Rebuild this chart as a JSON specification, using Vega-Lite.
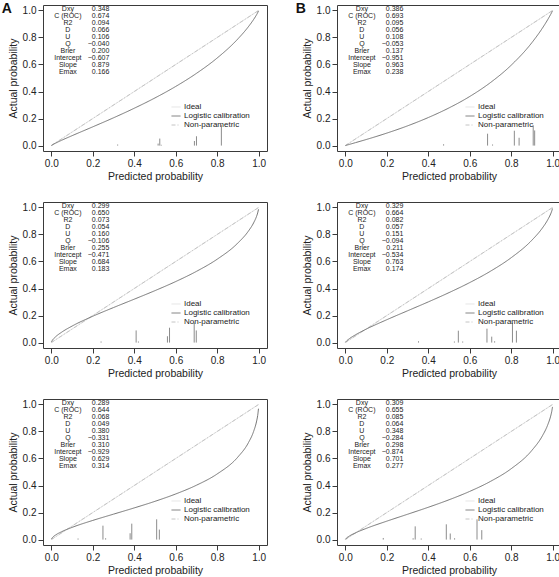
{
"$schema": "https://vega.github.io/schema/vega-lite/v6.json",
"padding": {"left": 1, "top": 1, "right": 0, "bottom": 0},
"background": "white",
"config": {
  "font": "Liberation Sans",
  "view": {"stroke": "#3a3a3a", "strokeWidth": 1},
  "axis": {"domain": false, "grid": false, "tickColor": "#3a3a3a", "tickSize": 5, "labelFontSize": 10, "labelColor": "#222", "titleFontSize": 10.5, "titleFontWeight": "normal", "titleColor": "#222", "labelPadding": 2, "labelFlush": false, "labelFont": "Liberation Sans", "titleFont": "Liberation Sans"},
  "axisX": {"titlePadding": 3},
  "axisY": {"labelAngle": 0, "titlePadding": 4},
  "text": {"font": "Liberation Sans"}
},
"datasets": {
  "ref": [
    {"series": "Ideal", "p": 0, "y": 0}, {"series": "Ideal", "p": 1, "y": 1},
    {"series": "Non-parametric", "p": 0, "y": 0}, {"series": "Non-parametric", "p": 1, "y": 1}
  ],
  "curves": [
    {"panel":"A1","series":"Logistic calibration","p":0.001,"y":0.0013},{"panel":"A1","series":"Logistic calibration","p":0.005,"y":0.0052},{"panel":"A1","series":"Logistic calibration","p":0.02,"y":0.0175},{"panel":"A1","series":"Logistic calibration","p":0.05,"y":0.0394},{"panel":"A1","series":"Logistic calibration","p":0.1,"y":0.0732},{"panel":"A1","series":"Logistic calibration","p":0.2,"y":0.1388},{"panel":"A1","series":"Logistic calibration","p":0.3,"y":0.2055},{"panel":"A1","series":"Logistic calibration","p":0.4,"y":0.2763},{"panel":"A1","series":"Logistic calibration","p":0.5,"y":0.3527},{"panel":"A1","series":"Logistic calibration","p":0.6,"y":0.4376},{"panel":"A1","series":"Logistic calibration","p":0.7,"y":0.5344},{"panel":"A1","series":"Logistic calibration","p":0.8,"y":0.6482},{"panel":"A1","series":"Logistic calibration","p":0.9,"y":0.7898},{"panel":"A1","series":"Logistic calibration","p":0.95,"y":0.8788},{"panel":"A1","series":"Logistic calibration","p":0.975,"y":0.9318},{"panel":"A1","series":"Logistic calibration","p":0.99,"y":0.9687},{"panel":"A1","series":"Logistic calibration","p":0.995,"y":0.9828},{"panel":"A1","series":"Logistic calibration","p":0.999,"y":0.9958},
    {"panel":"A2","series":"Logistic calibration","p":0.001,"y":0.0055},{"panel":"A2","series":"Logistic calibration","p":0.005,"y":0.0164},{"panel":"A2","series":"Logistic calibration","p":0.02,"y":0.0418},{"panel":"A2","series":"Logistic calibration","p":0.05,"y":0.0769},{"panel":"A2","series":"Logistic calibration","p":0.1,"y":0.122},{"panel":"A2","series":"Logistic calibration","p":0.2,"y":0.1949},{"panel":"A2","series":"Logistic calibration","p":0.3,"y":0.2592},{"panel":"A2","series":"Logistic calibration","p":0.4,"y":0.3212},{"panel":"A2","series":"Logistic calibration","p":0.5,"y":0.3844},{"panel":"A2","series":"Logistic calibration","p":0.6,"y":0.4516},{"panel":"A2","series":"Logistic calibration","p":0.7,"y":0.527},{"panel":"A2","series":"Logistic calibration","p":0.8,"y":0.617},{"panel":"A2","series":"Logistic calibration","p":0.9,"y":0.7373},{"panel":"A2","series":"Logistic calibration","p":0.95,"y":0.8239},{"panel":"A2","series":"Logistic calibration","p":0.975,"y":0.8844},{"panel":"A2","series":"Logistic calibration","p":0.99,"y":0.9354},{"panel":"A2","series":"Logistic calibration","p":0.995,"y":0.9589},{"panel":"A2","series":"Logistic calibration","p":0.999,"y":0.986},
    {"panel":"A3","series":"Logistic calibration","p":0.001,"y":0.0051},{"panel":"A3","series":"Logistic calibration","p":0.005,"y":0.014},{"panel":"A3","series":"Logistic calibration","p":0.02,"y":0.033},{"panel":"A3","series":"Logistic calibration","p":0.05,"y":0.0584},{"panel":"A3","series":"Logistic calibration","p":0.1,"y":0.0902},{"panel":"A3","series":"Logistic calibration","p":0.2,"y":0.1418},{"panel":"A3","series":"Logistic calibration","p":0.3,"y":0.1882},{"panel":"A3","series":"Logistic calibration","p":0.4,"y":0.2344},{"panel":"A3","series":"Logistic calibration","p":0.5,"y":0.2831},{"panel":"A3","series":"Logistic calibration","p":0.6,"y":0.3376},{"panel":"A3","series":"Logistic calibration","p":0.7,"y":0.4023},{"panel":"A3","series":"Logistic calibration","p":0.8,"y":0.4858},{"panel":"A3","series":"Logistic calibration","p":0.9,"y":0.6114},{"panel":"A3","series":"Logistic calibration","p":0.95,"y":0.7157},{"panel":"A3","series":"Logistic calibration","p":0.975,"y":0.7983},{"panel":"A3","series":"Logistic calibration","p":0.99,"y":0.8767},{"panel":"A3","series":"Logistic calibration","p":0.995,"y":0.9168},{"panel":"A3","series":"Logistic calibration","p":0.999,"y":0.9682},
    {"panel":"B1","series":"Logistic calibration","p":0.001,"y":0.0005},{"panel":"B1","series":"Logistic calibration","p":0.005,"y":0.0024},{"panel":"B1","series":"Logistic calibration","p":0.02,"y":0.009},{"panel":"B1","series":"Logistic calibration","p":0.05,"y":0.0222},{"panel":"B1","series":"Logistic calibration","p":0.1,"y":0.0445},{"panel":"B1","series":"Logistic calibration","p":0.2,"y":0.0923},{"panel":"B1","series":"Logistic calibration","p":0.3,"y":0.1459},{"panel":"B1","series":"Logistic calibration","p":0.4,"y":0.2074},{"panel":"B1","series":"Logistic calibration","p":0.5,"y":0.2787},{"panel":"B1","series":"Logistic calibration","p":0.6,"y":0.3633},{"panel":"B1","series":"Logistic calibration","p":0.7,"y":0.4663},{"panel":"B1","series":"Logistic calibration","p":0.8,"y":0.5948},{"panel":"B1","series":"Logistic calibration","p":0.9,"y":0.7622},{"panel":"B1","series":"Logistic calibration","p":0.95,"y":0.8681},{"panel":"B1","series":"Logistic calibration","p":0.975,"y":0.9294},{"panel":"B1","series":"Logistic calibration","p":0.99,"y":0.9699},{"panel":"B1","series":"Logistic calibration","p":0.995,"y":0.9844},{"panel":"B1","series":"Logistic calibration","p":0.999,"y":0.9967},
    {"panel":"B2","series":"Logistic calibration","p":0.001,"y":0.003},{"panel":"B2","series":"Logistic calibration","p":0.005,"y":0.0102},{"panel":"B2","series":"Logistic calibration","p":0.02,"y":0.0292},{"panel":"B2","series":"Logistic calibration","p":0.05,"y":0.0584},{"panel":"B2","series":"Logistic calibration","p":0.1,"y":0.0989},{"panel":"B2","series":"Logistic calibration","p":0.2,"y":0.1691},{"panel":"B2","series":"Logistic calibration","p":0.3,"y":0.2351},{"panel":"B2","series":"Logistic calibration","p":0.4,"y":0.3009},{"panel":"B2","series":"Logistic calibration","p":0.5,"y":0.3696},{"panel":"B2","series":"Logistic calibration","p":0.6,"y":0.444},{"panel":"B2","series":"Logistic calibration","p":0.7,"y":0.528},{"panel":"B2","series":"Logistic calibration","p":0.8,"y":0.6281},{"panel":"B2","series":"Logistic calibration","p":0.9,"y":0.758},{"panel":"B2","series":"Logistic calibration","p":0.95,"y":0.8471},{"panel":"B2","series":"Logistic calibration","p":0.975,"y":0.9057},{"panel":"B2","series":"Logistic calibration","p":0.99,"y":0.9513},{"panel":"B2","series":"Logistic calibration","p":0.995,"y":0.9709},{"panel":"B2","series":"Logistic calibration","p":0.999,"y":0.9913},
    {"panel":"B3","series":"Logistic calibration","p":0.001,"y":0.0033},{"panel":"B3","series":"Logistic calibration","p":0.005,"y":0.0101},{"panel":"B3","series":"Logistic calibration","p":0.02,"y":0.0265},{"panel":"B3","series":"Logistic calibration","p":0.05,"y":0.0503},{"panel":"B3","series":"Logistic calibration","p":0.1,"y":0.0821},{"panel":"B3","series":"Logistic calibration","p":0.2,"y":0.1363},{"panel":"B3","series":"Logistic calibration","p":0.3,"y":0.1873},{"panel":"B3","series":"Logistic calibration","p":0.4,"y":0.239},{"panel":"B3","series":"Logistic calibration","p":0.5,"y":0.2944},{"panel":"B3","series":"Logistic calibration","p":0.6,"y":0.3566},{"panel":"B3","series":"Logistic calibration","p":0.7,"y":0.4305},{"panel":"B3","series":"Logistic calibration","p":0.8,"y":0.5245},{"panel":"B3","series":"Logistic calibration","p":0.9,"y":0.6606},{"panel":"B3","series":"Logistic calibration","p":0.95,"y":0.7667},{"panel":"B3","series":"Logistic calibration","p":0.975,"y":0.8447},{"panel":"B3","series":"Logistic calibration","p":0.99,"y":0.9127},{"panel":"B3","series":"Logistic calibration","p":0.995,"y":0.9446},{"panel":"B3","series":"Logistic calibration","p":0.999,"y":0.9815}
  ],
  "spikes": [
    {"panel":"A1","p":0.32,"h":0.008},{"panel":"A1","p":0.515,"h":0.015},{"panel":"A1","p":0.523,"h":0.052},{"panel":"A1","p":0.53,"h":0.006},{"panel":"A1","p":0.69,"h":0.034},{"panel":"A1","p":0.7,"h":0.069},{"panel":"A1","p":0.82,"h":0.15},
    {"panel":"A2","p":0.24,"h":0.008},{"panel":"A2","p":0.409,"h":0.09},{"panel":"A2","p":0.42,"h":0.008},{"panel":"A2","p":0.56,"h":0.047},{"panel":"A2","p":0.57,"h":0.11},{"panel":"A2","p":0.689,"h":0.148},{"panel":"A2","p":0.699,"h":0.09},
    {"panel":"A3","p":0.129,"h":0.008},{"panel":"A3","p":0.249,"h":0.103},{"panel":"A3","p":0.262,"h":0.01},{"panel":"A3","p":0.38,"h":0.047},{"panel":"A3","p":0.388,"h":0.118},{"panel":"A3","p":0.508,"h":0.15},{"panel":"A3","p":0.521,"h":0.074},
    {"panel":"B1","p":0.474,"h":0.01},{"panel":"B1","p":0.686,"h":0.088},{"panel":"B1","p":0.71,"h":0.008},{"panel":"B1","p":0.815,"h":0.11},{"panel":"B1","p":0.838,"h":0.058},{"panel":"B1","p":0.906,"h":0.15},{"panel":"B1","p":0.913,"h":0.112},
    {"panel":"B2","p":0.353,"h":0.01},{"panel":"B2","p":0.526,"h":0.008},{"panel":"B2","p":0.545,"h":0.088},{"panel":"B2","p":0.566,"h":0.008},{"panel":"B2","p":0.683,"h":0.103},{"panel":"B2","p":0.706,"h":0.044},{"panel":"B2","p":0.72,"h":0.01},{"panel":"B2","p":0.806,"h":0.147},{"panel":"B2","p":0.825,"h":0.088},
    {"panel":"B3","p":0.183,"h":0.012},{"panel":"B3","p":0.327,"h":0.01},{"panel":"B3","p":0.337,"h":0.098},{"panel":"B3","p":0.366,"h":0.008},{"panel":"B3","p":0.487,"h":0.113},{"panel":"B3","p":0.506,"h":0.045},{"panel":"B3","p":0.527,"h":0.01},{"panel":"B3","p":0.635,"h":0.15},{"panel":"B3","p":0.658,"h":0.07}
  ],
  "stats": [
    {"panel":"A1","idx":0,"stat":"Dxy","value":"0.348"},{"panel":"A1","idx":1,"stat":"C (ROC)","value":"0.674"},{"panel":"A1","idx":2,"stat":"R2","value":"0.094"},{"panel":"A1","idx":3,"stat":"D","value":"0.066"},{"panel":"A1","idx":4,"stat":"U","value":"0.106"},{"panel":"A1","idx":5,"stat":"Q","value":"−0.040"},{"panel":"A1","idx":6,"stat":"Brier","value":"0.200"},{"panel":"A1","idx":7,"stat":"Intercept","value":"−0.607"},{"panel":"A1","idx":8,"stat":"Slope","value":"0.879"},{"panel":"A1","idx":9,"stat":"Emax","value":"0.166"},
    {"panel":"B1","idx":0,"stat":"Dxy","value":"0.386"},{"panel":"B1","idx":1,"stat":"C (ROC)","value":"0.693"},{"panel":"B1","idx":2,"stat":"R2","value":"0.095"},{"panel":"B1","idx":3,"stat":"D","value":"0.056"},{"panel":"B1","idx":4,"stat":"U","value":"0.108"},{"panel":"B1","idx":5,"stat":"Q","value":"−0.053"},{"panel":"B1","idx":6,"stat":"Brier","value":"0.137"},{"panel":"B1","idx":7,"stat":"Intercept","value":"−0.951"},{"panel":"B1","idx":8,"stat":"Slope","value":"0.963"},{"panel":"B1","idx":9,"stat":"Emax","value":"0.238"},
    {"panel":"A2","idx":0,"stat":"Dxy","value":"0.299"},{"panel":"A2","idx":1,"stat":"C (ROC)","value":"0.650"},{"panel":"A2","idx":2,"stat":"R2","value":"0.073"},{"panel":"A2","idx":3,"stat":"D","value":"0.054"},{"panel":"A2","idx":4,"stat":"U","value":"0.160"},{"panel":"A2","idx":5,"stat":"Q","value":"−0.106"},{"panel":"A2","idx":6,"stat":"Brier","value":"0.255"},{"panel":"A2","idx":7,"stat":"Intercept","value":"−0.471"},{"panel":"A2","idx":8,"stat":"Slope","value":"0.684"},{"panel":"A2","idx":9,"stat":"Emax","value":"0.183"},
    {"panel":"B2","idx":0,"stat":"Dxy","value":"0.329"},{"panel":"B2","idx":1,"stat":"C (ROC)","value":"0.664"},{"panel":"B2","idx":2,"stat":"R2","value":"0.082"},{"panel":"B2","idx":3,"stat":"D","value":"0.057"},{"panel":"B2","idx":4,"stat":"U","value":"0.151"},{"panel":"B2","idx":5,"stat":"Q","value":"−0.094"},{"panel":"B2","idx":6,"stat":"Brier","value":"0.211"},{"panel":"B2","idx":7,"stat":"Intercept","value":"−0.534"},{"panel":"B2","idx":8,"stat":"Slope","value":"0.763"},{"panel":"B2","idx":9,"stat":"Emax","value":"0.174"},
    {"panel":"A3","idx":0,"stat":"Dxy","value":"0.289"},{"panel":"A3","idx":1,"stat":"C (ROC)","value":"0.644"},{"panel":"A3","idx":2,"stat":"R2","value":"0.068"},{"panel":"A3","idx":3,"stat":"D","value":"0.049"},{"panel":"A3","idx":4,"stat":"U","value":"0.380"},{"panel":"A3","idx":5,"stat":"Q","value":"−0.331"},{"panel":"A3","idx":6,"stat":"Brier","value":"0.310"},{"panel":"A3","idx":7,"stat":"Intercept","value":"−0.929"},{"panel":"A3","idx":8,"stat":"Slope","value":"0.629"},{"panel":"A3","idx":9,"stat":"Emax","value":"0.314"},
    {"panel":"B3","idx":0,"stat":"Dxy","value":"0.309"},{"panel":"B3","idx":1,"stat":"C (ROC)","value":"0.655"},{"panel":"B3","idx":2,"stat":"R2","value":"0.085"},{"panel":"B3","idx":3,"stat":"D","value":"0.064"},{"panel":"B3","idx":4,"stat":"U","value":"0.348"},{"panel":"B3","idx":5,"stat":"Q","value":"−0.284"},{"panel":"B3","idx":6,"stat":"Brier","value":"0.298"},{"panel":"B3","idx":7,"stat":"Intercept","value":"−0.874"},{"panel":"B3","idx":8,"stat":"Slope","value":"0.701"},{"panel":"B3","idx":9,"stat":"Emax","value":"0.277"}
  ]
},
"columns": 2,
"spacing": {"row": 19, "column": 27},
"resolve": {"scale": {"color": "independent", "strokeDash": "independent"}, "legend": {"color": "independent", "strokeDash": "independent"}},
"concat": [
 {"width": 224, "height": 146, "resolve": {"scale": {"y": "independent"}}, "layer": [
  {"layer": [
   {"data": {"name": "spikes"}, "transform": [{"filter": "datum.panel === 'A1'"}], "mark": {"type": "rule", "color": "#8c8c8c", "strokeWidth": 1},
    "encoding": {"x": {"field": "p", "type": "quantitative", "scale": {"domain": [-0.04, 1.04], "nice": false, "zero": false}, "axis": {"title": "Predicted probability", "values": [0, 0.2, 0.4, 0.6, 0.8, 1], "format": ".1f"}},
                 "y": {"field": "h", "type": "quantitative", "scale": {"domain": [-0.04, 1.04], "nice": false, "zero": false}, "axis": {"title": "Actual probability", "values": [0, 0.2, 0.4, 0.6, 0.8, 1], "format": ".1f"}},
                 "y2": {"datum": 0}}},
   {"data": {"name": "ref"}, "mark": {"type": "line", "strokeWidth": 1},
    "encoding": {"x": {"field": "p", "type": "quantitative", "scale": {"domain": [-0.04, 1.04], "nice": false, "zero": false}, "axis": {"title": "Predicted probability", "values": [0, 0.2, 0.4, 0.6, 0.8, 1], "format": ".1f"}},
                 "y": {"field": "y", "type": "quantitative", "scale": {"domain": [-0.04, 1.04], "nice": false, "zero": false}, "axis": {"title": "Actual probability", "values": [0, 0.2, 0.4, 0.6, 0.8, 1], "format": ".1f"}},
                 "color": {"field": "series", "type": "nominal", "scale": {"domain": ["Ideal", "Logistic calibration", "Non-parametric"], "range": ["#e2e2e2", "#747474", "#c4c4c4"]}, "legend": {"title": null, "orient": "none", "legendX": 128, "legendY": 97, "symbolType": "stroke", "symbolSize": 81, "symbolStrokeWidth": 1, "labelFontSize": 8, "labelColor": "#222", "rowPadding": 0, "labelOffset": 3, "padding": 0}},
                 "strokeDash": {"field": "series", "type": "nominal", "scale": {"domain": ["Ideal", "Logistic calibration", "Non-parametric"], "range": [[1, 0], [1, 0], [4, 2, 1, 2]]}, "legend": {"title": null, "orient": "none", "legendX": 128, "legendY": 97, "symbolType": "stroke", "symbolSize": 81, "symbolStrokeWidth": 1, "labelFontSize": 8, "labelColor": "#222", "rowPadding": 0, "labelOffset": 3, "padding": 0}}}},
   {"data": {"name": "curves"}, "transform": [{"filter": "datum.panel === 'A1'"}], "mark": {"type": "line", "strokeWidth": 1, "interpolate": "monotone"},
    "encoding": {"x": {"field": "p", "type": "quantitative", "scale": {"domain": [-0.04, 1.04], "nice": false, "zero": false}, "axis": {"title": "Predicted probability", "values": [0, 0.2, 0.4, 0.6, 0.8, 1], "format": ".1f"}},
                 "y": {"field": "y", "type": "quantitative", "scale": {"domain": [-0.04, 1.04], "nice": false, "zero": false}, "axis": {"title": "Actual probability", "values": [0, 0.2, 0.4, 0.6, 0.8, 1], "format": ".1f"}},
                 "color": {"field": "series", "type": "nominal", "scale": {"domain": ["Ideal", "Logistic calibration", "Non-parametric"], "range": ["#e2e2e2", "#747474", "#c4c4c4"]}, "legend": {"title": null, "orient": "none", "legendX": 128, "legendY": 97, "symbolType": "stroke", "symbolSize": 81, "symbolStrokeWidth": 1, "labelFontSize": 8, "labelColor": "#222", "rowPadding": 0, "labelOffset": 3, "padding": 0}},
                 "strokeDash": {"field": "series", "type": "nominal", "scale": {"domain": ["Ideal", "Logistic calibration", "Non-parametric"], "range": [[1, 0], [1, 0], [4, 2, 1, 2]]}, "legend": {"title": null, "orient": "none", "legendX": 128, "legendY": 97, "symbolType": "stroke", "symbolSize": 81, "symbolStrokeWidth": 1, "labelFontSize": 8, "labelColor": "#222", "rowPadding": 0, "labelOffset": 3, "padding": 0}},
                 "order": {"field": "p", "type": "quantitative"}}},
   {"data": {"values": [{"label": "A"}]}, "mark": {"type": "text", "fontSize": 14, "fontWeight": "bold", "color": "#111", "align": "center", "baseline": "middle"},
    "encoding": {"x": {"datum": -0.215, "type": "quantitative", "scale": {"domain": [-0.04, 1.04], "nice": false, "zero": false}, "axis": {"title": "Predicted probability", "values": [0, 0.2, 0.4, 0.6, 0.8, 1], "format": ".1f"}},
                 "y": {"datum": 1.012, "type": "quantitative", "scale": {"domain": [-0.04, 1.04], "nice": false, "zero": false}, "axis": {"title": "Actual probability", "values": [0, 0.2, 0.4, 0.6, 0.8, 1], "format": ".1f"}},
                 "text": {"field": "label"}}}
  ]},
  {"data": {"name": "stats"}, "transform": [{"filter": "datum.panel === 'A1'"}],
   "encoding": {"y": {"field": "idx", "type": "quantitative", "scale": {"domain": [-0.53, 20.33], "reverse": true, "nice": false, "zero": false}, "axis": null}},
   "layer": [
    {"mark": {"type": "text", "align": "center", "baseline": "middle", "fontSize": 7, "color": "#222"}, "encoding": {"x": {"datum": 0.08, "type": "quantitative", "scale": {"domain": [-0.04, 1.04], "nice": false, "zero": false}, "axis": {"title": "Predicted probability", "values": [0, 0.2, 0.4, 0.6, 0.8, 1], "format": ".1f"}}, "text": {"field": "stat"}}},
    {"mark": {"type": "text", "align": "right", "baseline": "middle", "fontSize": 7, "color": "#222"}, "encoding": {"x": {"datum": 0.28, "type": "quantitative", "scale": {"domain": [-0.04, 1.04], "nice": false, "zero": false}, "axis": {"title": "Predicted probability", "values": [0, 0.2, 0.4, 0.6, 0.8, 1], "format": ".1f"}}, "text": {"field": "value"}}}
   ]}
 ]},
 {"width": 224, "height": 146, "resolve": {"scale": {"y": "independent"}}, "layer": [
  {"layer": [
   {"data": {"name": "spikes"}, "transform": [{"filter": "datum.panel === 'B1'"}], "mark": {"type": "rule", "color": "#8c8c8c", "strokeWidth": 1},
    "encoding": {"x": {"field": "p", "type": "quantitative", "scale": {"domain": [-0.04, 1.04], "nice": false, "zero": false}, "axis": {"title": "Predicted probability", "values": [0, 0.2, 0.4, 0.6, 0.8, 1], "format": ".1f"}},
                 "y": {"field": "h", "type": "quantitative", "scale": {"domain": [-0.04, 1.04], "nice": false, "zero": false}, "axis": {"title": "Actual probability", "values": [0, 0.2, 0.4, 0.6, 0.8, 1], "format": ".1f"}},
                 "y2": {"datum": 0}}},
   {"data": {"name": "ref"}, "mark": {"type": "line", "strokeWidth": 1},
    "encoding": {"x": {"field": "p", "type": "quantitative", "scale": {"domain": [-0.04, 1.04], "nice": false, "zero": false}, "axis": {"title": "Predicted probability", "values": [0, 0.2, 0.4, 0.6, 0.8, 1], "format": ".1f"}},
                 "y": {"field": "y", "type": "quantitative", "scale": {"domain": [-0.04, 1.04], "nice": false, "zero": false}, "axis": {"title": "Actual probability", "values": [0, 0.2, 0.4, 0.6, 0.8, 1], "format": ".1f"}},
                 "color": {"field": "series", "type": "nominal", "scale": {"domain": ["Ideal", "Logistic calibration", "Non-parametric"], "range": ["#e2e2e2", "#747474", "#c4c4c4"]}, "legend": {"title": null, "orient": "none", "legendX": 128, "legendY": 97, "symbolType": "stroke", "symbolSize": 81, "symbolStrokeWidth": 1, "labelFontSize": 8, "labelColor": "#222", "rowPadding": 0, "labelOffset": 3, "padding": 0}},
                 "strokeDash": {"field": "series", "type": "nominal", "scale": {"domain": ["Ideal", "Logistic calibration", "Non-parametric"], "range": [[1, 0], [1, 0], [4, 2, 1, 2]]}, "legend": {"title": null, "orient": "none", "legendX": 128, "legendY": 97, "symbolType": "stroke", "symbolSize": 81, "symbolStrokeWidth": 1, "labelFontSize": 8, "labelColor": "#222", "rowPadding": 0, "labelOffset": 3, "padding": 0}}}},
   {"data": {"name": "curves"}, "transform": [{"filter": "datum.panel === 'B1'"}], "mark": {"type": "line", "strokeWidth": 1, "interpolate": "monotone"},
    "encoding": {"x": {"field": "p", "type": "quantitative", "scale": {"domain": [-0.04, 1.04], "nice": false, "zero": false}, "axis": {"title": "Predicted probability", "values": [0, 0.2, 0.4, 0.6, 0.8, 1], "format": ".1f"}},
                 "y": {"field": "y", "type": "quantitative", "scale": {"domain": [-0.04, 1.04], "nice": false, "zero": false}, "axis": {"title": "Actual probability", "values": [0, 0.2, 0.4, 0.6, 0.8, 1], "format": ".1f"}},
                 "color": {"field": "series", "type": "nominal", "scale": {"domain": ["Ideal", "Logistic calibration", "Non-parametric"], "range": ["#e2e2e2", "#747474", "#c4c4c4"]}, "legend": {"title": null, "orient": "none", "legendX": 128, "legendY": 97, "symbolType": "stroke", "symbolSize": 81, "symbolStrokeWidth": 1, "labelFontSize": 8, "labelColor": "#222", "rowPadding": 0, "labelOffset": 3, "padding": 0}},
                 "strokeDash": {"field": "series", "type": "nominal", "scale": {"domain": ["Ideal", "Logistic calibration", "Non-parametric"], "range": [[1, 0], [1, 0], [4, 2, 1, 2]]}, "legend": {"title": null, "orient": "none", "legendX": 128, "legendY": 97, "symbolType": "stroke", "symbolSize": 81, "symbolStrokeWidth": 1, "labelFontSize": 8, "labelColor": "#222", "rowPadding": 0, "labelOffset": 3, "padding": 0}},
                 "order": {"field": "p", "type": "quantitative"}}},
   {"data": {"values": [{"label": "B"}]}, "mark": {"type": "text", "fontSize": 14, "fontWeight": "bold", "color": "#111", "align": "center", "baseline": "middle"},
    "encoding": {"x": {"datum": -0.215, "type": "quantitative", "scale": {"domain": [-0.04, 1.04], "nice": false, "zero": false}, "axis": {"title": "Predicted probability", "values": [0, 0.2, 0.4, 0.6, 0.8, 1], "format": ".1f"}},
                 "y": {"datum": 1.012, "type": "quantitative", "scale": {"domain": [-0.04, 1.04], "nice": false, "zero": false}, "axis": {"title": "Actual probability", "values": [0, 0.2, 0.4, 0.6, 0.8, 1], "format": ".1f"}},
                 "text": {"field": "label"}}}
  ]},
  {"data": {"name": "stats"}, "transform": [{"filter": "datum.panel === 'B1'"}],
   "encoding": {"y": {"field": "idx", "type": "quantitative", "scale": {"domain": [-0.53, 20.33], "reverse": true, "nice": false, "zero": false}, "axis": null}},
   "layer": [
    {"mark": {"type": "text", "align": "center", "baseline": "middle", "fontSize": 7, "color": "#222"}, "encoding": {"x": {"datum": 0.08, "type": "quantitative", "scale": {"domain": [-0.04, 1.04], "nice": false, "zero": false}, "axis": {"title": "Predicted probability", "values": [0, 0.2, 0.4, 0.6, 0.8, 1], "format": ".1f"}}, "text": {"field": "stat"}}},
    {"mark": {"type": "text", "align": "right", "baseline": "middle", "fontSize": 7, "color": "#222"}, "encoding": {"x": {"datum": 0.28, "type": "quantitative", "scale": {"domain": [-0.04, 1.04], "nice": false, "zero": false}, "axis": {"title": "Predicted probability", "values": [0, 0.2, 0.4, 0.6, 0.8, 1], "format": ".1f"}}, "text": {"field": "value"}}}
   ]}
 ]},
 {"width": 224, "height": 146, "resolve": {"scale": {"y": "independent"}}, "layer": [
  {"layer": [
   {"data": {"name": "spikes"}, "transform": [{"filter": "datum.panel === 'A2'"}], "mark": {"type": "rule", "color": "#8c8c8c", "strokeWidth": 1},
    "encoding": {"x": {"field": "p", "type": "quantitative", "scale": {"domain": [-0.04, 1.04], "nice": false, "zero": false}, "axis": {"title": "Predicted probability", "values": [0, 0.2, 0.4, 0.6, 0.8, 1], "format": ".1f"}},
                 "y": {"field": "h", "type": "quantitative", "scale": {"domain": [-0.04, 1.04], "nice": false, "zero": false}, "axis": {"title": "Actual probability", "values": [0, 0.2, 0.4, 0.6, 0.8, 1], "format": ".1f"}},
                 "y2": {"datum": 0}}},
   {"data": {"name": "ref"}, "mark": {"type": "line", "strokeWidth": 1},
    "encoding": {"x": {"field": "p", "type": "quantitative", "scale": {"domain": [-0.04, 1.04], "nice": false, "zero": false}, "axis": {"title": "Predicted probability", "values": [0, 0.2, 0.4, 0.6, 0.8, 1], "format": ".1f"}},
                 "y": {"field": "y", "type": "quantitative", "scale": {"domain": [-0.04, 1.04], "nice": false, "zero": false}, "axis": {"title": "Actual probability", "values": [0, 0.2, 0.4, 0.6, 0.8, 1], "format": ".1f"}},
                 "color": {"field": "series", "type": "nominal", "scale": {"domain": ["Ideal", "Logistic calibration", "Non-parametric"], "range": ["#e2e2e2", "#747474", "#c4c4c4"]}, "legend": {"title": null, "orient": "none", "legendX": 128, "legendY": 97, "symbolType": "stroke", "symbolSize": 81, "symbolStrokeWidth": 1, "labelFontSize": 8, "labelColor": "#222", "rowPadding": 0, "labelOffset": 3, "padding": 0}},
                 "strokeDash": {"field": "series", "type": "nominal", "scale": {"domain": ["Ideal", "Logistic calibration", "Non-parametric"], "range": [[1, 0], [1, 0], [4, 2, 1, 2]]}, "legend": {"title": null, "orient": "none", "legendX": 128, "legendY": 97, "symbolType": "stroke", "symbolSize": 81, "symbolStrokeWidth": 1, "labelFontSize": 8, "labelColor": "#222", "rowPadding": 0, "labelOffset": 3, "padding": 0}}}},
   {"data": {"name": "curves"}, "transform": [{"filter": "datum.panel === 'A2'"}], "mark": {"type": "line", "strokeWidth": 1, "interpolate": "monotone"},
    "encoding": {"x": {"field": "p", "type": "quantitative", "scale": {"domain": [-0.04, 1.04], "nice": false, "zero": false}, "axis": {"title": "Predicted probability", "values": [0, 0.2, 0.4, 0.6, 0.8, 1], "format": ".1f"}},
                 "y": {"field": "y", "type": "quantitative", "scale": {"domain": [-0.04, 1.04], "nice": false, "zero": false}, "axis": {"title": "Actual probability", "values": [0, 0.2, 0.4, 0.6, 0.8, 1], "format": ".1f"}},
                 "color": {"field": "series", "type": "nominal", "scale": {"domain": ["Ideal", "Logistic calibration", "Non-parametric"], "range": ["#e2e2e2", "#747474", "#c4c4c4"]}, "legend": {"title": null, "orient": "none", "legendX": 128, "legendY": 97, "symbolType": "stroke", "symbolSize": 81, "symbolStrokeWidth": 1, "labelFontSize": 8, "labelColor": "#222", "rowPadding": 0, "labelOffset": 3, "padding": 0}},
                 "strokeDash": {"field": "series", "type": "nominal", "scale": {"domain": ["Ideal", "Logistic calibration", "Non-parametric"], "range": [[1, 0], [1, 0], [4, 2, 1, 2]]}, "legend": {"title": null, "orient": "none", "legendX": 128, "legendY": 97, "symbolType": "stroke", "symbolSize": 81, "symbolStrokeWidth": 1, "labelFontSize": 8, "labelColor": "#222", "rowPadding": 0, "labelOffset": 3, "padding": 0}},
                 "order": {"field": "p", "type": "quantitative"}}}
  ]},
  {"data": {"name": "stats"}, "transform": [{"filter": "datum.panel === 'A2'"}],
   "encoding": {"y": {"field": "idx", "type": "quantitative", "scale": {"domain": [-0.53, 20.33], "reverse": true, "nice": false, "zero": false}, "axis": null}},
   "layer": [
    {"mark": {"type": "text", "align": "center", "baseline": "middle", "fontSize": 7, "color": "#222"}, "encoding": {"x": {"datum": 0.08, "type": "quantitative", "scale": {"domain": [-0.04, 1.04], "nice": false, "zero": false}, "axis": {"title": "Predicted probability", "values": [0, 0.2, 0.4, 0.6, 0.8, 1], "format": ".1f"}}, "text": {"field": "stat"}}},
    {"mark": {"type": "text", "align": "right", "baseline": "middle", "fontSize": 7, "color": "#222"}, "encoding": {"x": {"datum": 0.28, "type": "quantitative", "scale": {"domain": [-0.04, 1.04], "nice": false, "zero": false}, "axis": {"title": "Predicted probability", "values": [0, 0.2, 0.4, 0.6, 0.8, 1], "format": ".1f"}}, "text": {"field": "value"}}}
   ]}
 ]},
 {"width": 224, "height": 146, "resolve": {"scale": {"y": "independent"}}, "layer": [
  {"layer": [
   {"data": {"name": "spikes"}, "transform": [{"filter": "datum.panel === 'B2'"}], "mark": {"type": "rule", "color": "#8c8c8c", "strokeWidth": 1},
    "encoding": {"x": {"field": "p", "type": "quantitative", "scale": {"domain": [-0.04, 1.04], "nice": false, "zero": false}, "axis": {"title": "Predicted probability", "values": [0, 0.2, 0.4, 0.6, 0.8, 1], "format": ".1f"}},
                 "y": {"field": "h", "type": "quantitative", "scale": {"domain": [-0.04, 1.04], "nice": false, "zero": false}, "axis": {"title": "Actual probability", "values": [0, 0.2, 0.4, 0.6, 0.8, 1], "format": ".1f"}},
                 "y2": {"datum": 0}}},
   {"data": {"name": "ref"}, "mark": {"type": "line", "strokeWidth": 1},
    "encoding": {"x": {"field": "p", "type": "quantitative", "scale": {"domain": [-0.04, 1.04], "nice": false, "zero": false}, "axis": {"title": "Predicted probability", "values": [0, 0.2, 0.4, 0.6, 0.8, 1], "format": ".1f"}},
                 "y": {"field": "y", "type": "quantitative", "scale": {"domain": [-0.04, 1.04], "nice": false, "zero": false}, "axis": {"title": "Actual probability", "values": [0, 0.2, 0.4, 0.6, 0.8, 1], "format": ".1f"}},
                 "color": {"field": "series", "type": "nominal", "scale": {"domain": ["Ideal", "Logistic calibration", "Non-parametric"], "range": ["#e2e2e2", "#747474", "#c4c4c4"]}, "legend": {"title": null, "orient": "none", "legendX": 128, "legendY": 97, "symbolType": "stroke", "symbolSize": 81, "symbolStrokeWidth": 1, "labelFontSize": 8, "labelColor": "#222", "rowPadding": 0, "labelOffset": 3, "padding": 0}},
                 "strokeDash": {"field": "series", "type": "nominal", "scale": {"domain": ["Ideal", "Logistic calibration", "Non-parametric"], "range": [[1, 0], [1, 0], [4, 2, 1, 2]]}, "legend": {"title": null, "orient": "none", "legendX": 128, "legendY": 97, "symbolType": "stroke", "symbolSize": 81, "symbolStrokeWidth": 1, "labelFontSize": 8, "labelColor": "#222", "rowPadding": 0, "labelOffset": 3, "padding": 0}}}},
   {"data": {"name": "curves"}, "transform": [{"filter": "datum.panel === 'B2'"}], "mark": {"type": "line", "strokeWidth": 1, "interpolate": "monotone"},
    "encoding": {"x": {"field": "p", "type": "quantitative", "scale": {"domain": [-0.04, 1.04], "nice": false, "zero": false}, "axis": {"title": "Predicted probability", "values": [0, 0.2, 0.4, 0.6, 0.8, 1], "format": ".1f"}},
                 "y": {"field": "y", "type": "quantitative", "scale": {"domain": [-0.04, 1.04], "nice": false, "zero": false}, "axis": {"title": "Actual probability", "values": [0, 0.2, 0.4, 0.6, 0.8, 1], "format": ".1f"}},
                 "color": {"field": "series", "type": "nominal", "scale": {"domain": ["Ideal", "Logistic calibration", "Non-parametric"], "range": ["#e2e2e2", "#747474", "#c4c4c4"]}, "legend": {"title": null, "orient": "none", "legendX": 128, "legendY": 97, "symbolType": "stroke", "symbolSize": 81, "symbolStrokeWidth": 1, "labelFontSize": 8, "labelColor": "#222", "rowPadding": 0, "labelOffset": 3, "padding": 0}},
                 "strokeDash": {"field": "series", "type": "nominal", "scale": {"domain": ["Ideal", "Logistic calibration", "Non-parametric"], "range": [[1, 0], [1, 0], [4, 2, 1, 2]]}, "legend": {"title": null, "orient": "none", "legendX": 128, "legendY": 97, "symbolType": "stroke", "symbolSize": 81, "symbolStrokeWidth": 1, "labelFontSize": 8, "labelColor": "#222", "rowPadding": 0, "labelOffset": 3, "padding": 0}},
                 "order": {"field": "p", "type": "quantitative"}}}
  ]},
  {"data": {"name": "stats"}, "transform": [{"filter": "datum.panel === 'B2'"}],
   "encoding": {"y": {"field": "idx", "type": "quantitative", "scale": {"domain": [-0.53, 20.33], "reverse": true, "nice": false, "zero": false}, "axis": null}},
   "layer": [
    {"mark": {"type": "text", "align": "center", "baseline": "middle", "fontSize": 7, "color": "#222"}, "encoding": {"x": {"datum": 0.08, "type": "quantitative", "scale": {"domain": [-0.04, 1.04], "nice": false, "zero": false}, "axis": {"title": "Predicted probability", "values": [0, 0.2, 0.4, 0.6, 0.8, 1], "format": ".1f"}}, "text": {"field": "stat"}}},
    {"mark": {"type": "text", "align": "right", "baseline": "middle", "fontSize": 7, "color": "#222"}, "encoding": {"x": {"datum": 0.28, "type": "quantitative", "scale": {"domain": [-0.04, 1.04], "nice": false, "zero": false}, "axis": {"title": "Predicted probability", "values": [0, 0.2, 0.4, 0.6, 0.8, 1], "format": ".1f"}}, "text": {"field": "value"}}}
   ]}
 ]},
 {"width": 224, "height": 146, "resolve": {"scale": {"y": "independent"}}, "layer": [
  {"layer": [
   {"data": {"name": "spikes"}, "transform": [{"filter": "datum.panel === 'A3'"}], "mark": {"type": "rule", "color": "#8c8c8c", "strokeWidth": 1},
    "encoding": {"x": {"field": "p", "type": "quantitative", "scale": {"domain": [-0.04, 1.04], "nice": false, "zero": false}, "axis": {"title": "Predicted probability", "values": [0, 0.2, 0.4, 0.6, 0.8, 1], "format": ".1f"}},
                 "y": {"field": "h", "type": "quantitative", "scale": {"domain": [-0.04, 1.04], "nice": false, "zero": false}, "axis": {"title": "Actual probability", "values": [0, 0.2, 0.4, 0.6, 0.8, 1], "format": ".1f"}},
                 "y2": {"datum": 0}}},
   {"data": {"name": "ref"}, "mark": {"type": "line", "strokeWidth": 1},
    "encoding": {"x": {"field": "p", "type": "quantitative", "scale": {"domain": [-0.04, 1.04], "nice": false, "zero": false}, "axis": {"title": "Predicted probability", "values": [0, 0.2, 0.4, 0.6, 0.8, 1], "format": ".1f"}},
                 "y": {"field": "y", "type": "quantitative", "scale": {"domain": [-0.04, 1.04], "nice": false, "zero": false}, "axis": {"title": "Actual probability", "values": [0, 0.2, 0.4, 0.6, 0.8, 1], "format": ".1f"}},
                 "color": {"field": "series", "type": "nominal", "scale": {"domain": ["Ideal", "Logistic calibration", "Non-parametric"], "range": ["#e2e2e2", "#747474", "#c4c4c4"]}, "legend": {"title": null, "orient": "none", "legendX": 128, "legendY": 97, "symbolType": "stroke", "symbolSize": 81, "symbolStrokeWidth": 1, "labelFontSize": 8, "labelColor": "#222", "rowPadding": 0, "labelOffset": 3, "padding": 0}},
                 "strokeDash": {"field": "series", "type": "nominal", "scale": {"domain": ["Ideal", "Logistic calibration", "Non-parametric"], "range": [[1, 0], [1, 0], [4, 2, 1, 2]]}, "legend": {"title": null, "orient": "none", "legendX": 128, "legendY": 97, "symbolType": "stroke", "symbolSize": 81, "symbolStrokeWidth": 1, "labelFontSize": 8, "labelColor": "#222", "rowPadding": 0, "labelOffset": 3, "padding": 0}}}},
   {"data": {"name": "curves"}, "transform": [{"filter": "datum.panel === 'A3'"}], "mark": {"type": "line", "strokeWidth": 1, "interpolate": "monotone"},
    "encoding": {"x": {"field": "p", "type": "quantitative", "scale": {"domain": [-0.04, 1.04], "nice": false, "zero": false}, "axis": {"title": "Predicted probability", "values": [0, 0.2, 0.4, 0.6, 0.8, 1], "format": ".1f"}},
                 "y": {"field": "y", "type": "quantitative", "scale": {"domain": [-0.04, 1.04], "nice": false, "zero": false}, "axis": {"title": "Actual probability", "values": [0, 0.2, 0.4, 0.6, 0.8, 1], "format": ".1f"}},
                 "color": {"field": "series", "type": "nominal", "scale": {"domain": ["Ideal", "Logistic calibration", "Non-parametric"], "range": ["#e2e2e2", "#747474", "#c4c4c4"]}, "legend": {"title": null, "orient": "none", "legendX": 128, "legendY": 97, "symbolType": "stroke", "symbolSize": 81, "symbolStrokeWidth": 1, "labelFontSize": 8, "labelColor": "#222", "rowPadding": 0, "labelOffset": 3, "padding": 0}},
                 "strokeDash": {"field": "series", "type": "nominal", "scale": {"domain": ["Ideal", "Logistic calibration", "Non-parametric"], "range": [[1, 0], [1, 0], [4, 2, 1, 2]]}, "legend": {"title": null, "orient": "none", "legendX": 128, "legendY": 97, "symbolType": "stroke", "symbolSize": 81, "symbolStrokeWidth": 1, "labelFontSize": 8, "labelColor": "#222", "rowPadding": 0, "labelOffset": 3, "padding": 0}},
                 "order": {"field": "p", "type": "quantitative"}}}
  ]},
  {"data": {"name": "stats"}, "transform": [{"filter": "datum.panel === 'A3'"}],
   "encoding": {"y": {"field": "idx", "type": "quantitative", "scale": {"domain": [-0.53, 20.33], "reverse": true, "nice": false, "zero": false}, "axis": null}},
   "layer": [
    {"mark": {"type": "text", "align": "center", "baseline": "middle", "fontSize": 7, "color": "#222"}, "encoding": {"x": {"datum": 0.08, "type": "quantitative", "scale": {"domain": [-0.04, 1.04], "nice": false, "zero": false}, "axis": {"title": "Predicted probability", "values": [0, 0.2, 0.4, 0.6, 0.8, 1], "format": ".1f"}}, "text": {"field": "stat"}}},
    {"mark": {"type": "text", "align": "right", "baseline": "middle", "fontSize": 7, "color": "#222"}, "encoding": {"x": {"datum": 0.28, "type": "quantitative", "scale": {"domain": [-0.04, 1.04], "nice": false, "zero": false}, "axis": {"title": "Predicted probability", "values": [0, 0.2, 0.4, 0.6, 0.8, 1], "format": ".1f"}}, "text": {"field": "value"}}}
   ]}
 ]},
 {"width": 224, "height": 146, "resolve": {"scale": {"y": "independent"}}, "layer": [
  {"layer": [
   {"data": {"name": "spikes"}, "transform": [{"filter": "datum.panel === 'B3'"}], "mark": {"type": "rule", "color": "#8c8c8c", "strokeWidth": 1},
    "encoding": {"x": {"field": "p", "type": "quantitative", "scale": {"domain": [-0.04, 1.04], "nice": false, "zero": false}, "axis": {"title": "Predicted probability", "values": [0, 0.2, 0.4, 0.6, 0.8, 1], "format": ".1f"}},
                 "y": {"field": "h", "type": "quantitative", "scale": {"domain": [-0.04, 1.04], "nice": false, "zero": false}, "axis": {"title": "Actual probability", "values": [0, 0.2, 0.4, 0.6, 0.8, 1], "format": ".1f"}},
                 "y2": {"datum": 0}}},
   {"data": {"name": "ref"}, "mark": {"type": "line", "strokeWidth": 1},
    "encoding": {"x": {"field": "p", "type": "quantitative", "scale": {"domain": [-0.04, 1.04], "nice": false, "zero": false}, "axis": {"title": "Predicted probability", "values": [0, 0.2, 0.4, 0.6, 0.8, 1], "format": ".1f"}},
                 "y": {"field": "y", "type": "quantitative", "scale": {"domain": [-0.04, 1.04], "nice": false, "zero": false}, "axis": {"title": "Actual probability", "values": [0, 0.2, 0.4, 0.6, 0.8, 1], "format": ".1f"}},
                 "color": {"field": "series", "type": "nominal", "scale": {"domain": ["Ideal", "Logistic calibration", "Non-parametric"], "range": ["#e2e2e2", "#747474", "#c4c4c4"]}, "legend": {"title": null, "orient": "none", "legendX": 128, "legendY": 97, "symbolType": "stroke", "symbolSize": 81, "symbolStrokeWidth": 1, "labelFontSize": 8, "labelColor": "#222", "rowPadding": 0, "labelOffset": 3, "padding": 0}},
                 "strokeDash": {"field": "series", "type": "nominal", "scale": {"domain": ["Ideal", "Logistic calibration", "Non-parametric"], "range": [[1, 0], [1, 0], [4, 2, 1, 2]]}, "legend": {"title": null, "orient": "none", "legendX": 128, "legendY": 97, "symbolType": "stroke", "symbolSize": 81, "symbolStrokeWidth": 1, "labelFontSize": 8, "labelColor": "#222", "rowPadding": 0, "labelOffset": 3, "padding": 0}}}},
   {"data": {"name": "curves"}, "transform": [{"filter": "datum.panel === 'B3'"}], "mark": {"type": "line", "strokeWidth": 1, "interpolate": "monotone"},
    "encoding": {"x": {"field": "p", "type": "quantitative", "scale": {"domain": [-0.04, 1.04], "nice": false, "zero": false}, "axis": {"title": "Predicted probability", "values": [0, 0.2, 0.4, 0.6, 0.8, 1], "format": ".1f"}},
                 "y": {"field": "y", "type": "quantitative", "scale": {"domain": [-0.04, 1.04], "nice": false, "zero": false}, "axis": {"title": "Actual probability", "values": [0, 0.2, 0.4, 0.6, 0.8, 1], "format": ".1f"}},
                 "color": {"field": "series", "type": "nominal", "scale": {"domain": ["Ideal", "Logistic calibration", "Non-parametric"], "range": ["#e2e2e2", "#747474", "#c4c4c4"]}, "legend": {"title": null, "orient": "none", "legendX": 128, "legendY": 97, "symbolType": "stroke", "symbolSize": 81, "symbolStrokeWidth": 1, "labelFontSize": 8, "labelColor": "#222", "rowPadding": 0, "labelOffset": 3, "padding": 0}},
                 "strokeDash": {"field": "series", "type": "nominal", "scale": {"domain": ["Ideal", "Logistic calibration", "Non-parametric"], "range": [[1, 0], [1, 0], [4, 2, 1, 2]]}, "legend": {"title": null, "orient": "none", "legendX": 128, "legendY": 97, "symbolType": "stroke", "symbolSize": 81, "symbolStrokeWidth": 1, "labelFontSize": 8, "labelColor": "#222", "rowPadding": 0, "labelOffset": 3, "padding": 0}},
                 "order": {"field": "p", "type": "quantitative"}}}
  ]},
  {"data": {"name": "stats"}, "transform": [{"filter": "datum.panel === 'B3'"}],
   "encoding": {"y": {"field": "idx", "type": "quantitative", "scale": {"domain": [-0.53, 20.33], "reverse": true, "nice": false, "zero": false}, "axis": null}},
   "layer": [
    {"mark": {"type": "text", "align": "center", "baseline": "middle", "fontSize": 7, "color": "#222"}, "encoding": {"x": {"datum": 0.08, "type": "quantitative", "scale": {"domain": [-0.04, 1.04], "nice": false, "zero": false}, "axis": {"title": "Predicted probability", "values": [0, 0.2, 0.4, 0.6, 0.8, 1], "format": ".1f"}}, "text": {"field": "stat"}}},
    {"mark": {"type": "text", "align": "right", "baseline": "middle", "fontSize": 7, "color": "#222"}, "encoding": {"x": {"datum": 0.28, "type": "quantitative", "scale": {"domain": [-0.04, 1.04], "nice": false, "zero": false}, "axis": {"title": "Predicted probability", "values": [0, 0.2, 0.4, 0.6, 0.8, 1], "format": ".1f"}}, "text": {"field": "value"}}}
   ]}
 ]}
]
}
